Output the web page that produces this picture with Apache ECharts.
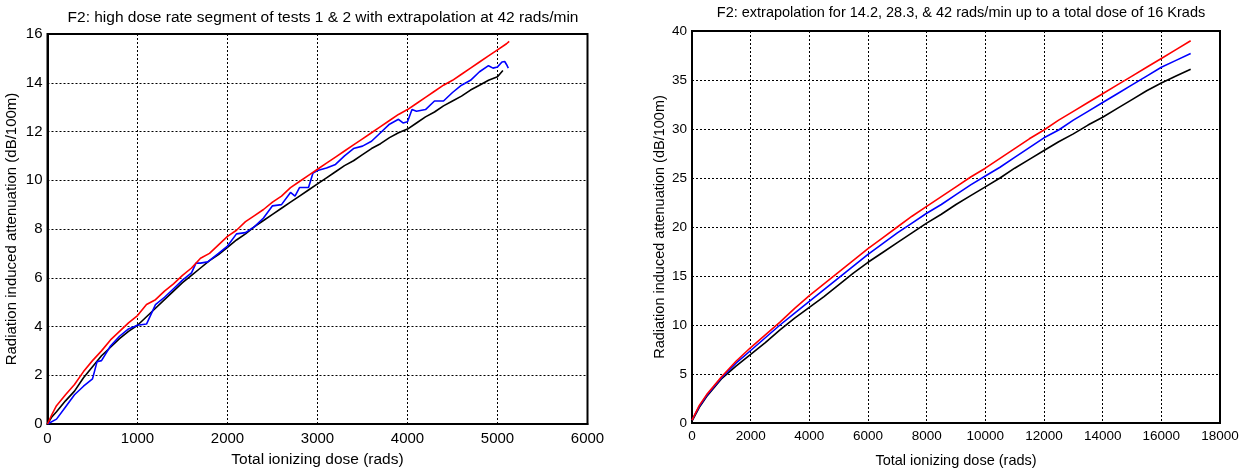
<!DOCTYPE html>
<html><head><meta charset="utf-8">
<script src="https://cdn.jsdelivr.net/npm/echarts@6/dist/echarts.min.js"></script>
<style>html,body{margin:0;padding:0;background:#fff}#c{width:1250px;height:473px}</style>
</head><body><div id="c"></div>
<script>
// ---- Text ----
const leftTitle = 'F2: high dose rate segment of tests 1 & 2 with extrapolation at 42 rads/min';
const rightTitle = 'F2: extrapolation for 14.2, 28.3, & 42 rads/min up to a total dose of 16 Krads';
const xName = 'Total ionizing dose (rads)';
const yName = 'Radiation induced attenuation (dB/100m)';

// ---- Left chart data ----
const leftRedX = [0,50,100,200,300,400,500,600,700,800,900,1000,1100,1200,1300,1400,1500,1600,1700,1800,1900,2000,2100,2200,2300,2400,2500,2600,2700,2800,2900,3000,3100,3200,3300,3400,3500,3600,3700,3800,3900,4000,4100,4200,4300,4400,4500,4600,4700,4800,4900,5000,5100,5130];
const leftRedY = [0,0.4,0.75,1.2,1.62,2.15,2.6,3.0,3.45,3.8,4.15,4.45,4.9,5.1,5.45,5.75,6.1,6.4,6.8,7.0,7.35,7.7,7.95,8.3,8.55,8.8,9.1,9.35,9.7,9.95,10.2,10.45,10.7,10.95,11.2,11.45,11.7,11.95,12.2,12.45,12.7,12.9,13.15,13.4,13.65,13.9,14.1,14.35,14.6,14.85,15.1,15.35,15.6,15.7];

const leftBlueX = [0,100,200,300,400,500,550,600,700,800,900,1000,1100,1150,1200,1300,1400,1500,1600,1650,1700,1780,1800,1900,2000,2100,2200,2300,2400,2500,2600,2700,2750,2800,2900,2950,3000,3100,3200,3300,3400,3500,3600,3700,3800,3900,3950,4000,4050,4100,4200,4300,4400,4500,4600,4700,4800,4900,4950,5000,5050,5080,5100,5120];
const leftBlueY = [0,0.2,0.7,1.2,1.55,1.85,2.55,2.6,3.2,3.6,3.9,4.05,4.1,4.5,4.9,5.2,5.55,5.9,6.2,6.6,6.6,6.65,6.7,7.0,7.3,7.8,7.85,8.1,8.45,8.95,9.0,9.5,9.35,9.7,9.7,10.3,10.4,10.5,10.65,11.0,11.3,11.4,11.6,11.95,12.3,12.5,12.35,12.4,12.9,12.83,12.9,13.25,13.25,13.6,13.9,14.1,14.45,14.7,14.6,14.65,14.85,14.87,14.75,14.6];

const leftBlackX = [0,50,100,200,300,400,500,600,700,800,900,1000,1100,1200,1300,1400,1500,1600,1700,1800,1900,2000,2100,2200,2300,2400,2500,2600,2700,2800,2900,3000,3100,3200,3300,3400,3500,3600,3700,3800,3900,4000,4100,4200,4300,4400,4500,4600,4700,4800,4900,5000,5060];
const leftBlackY = [0,0.3,0.5,0.95,1.35,1.9,2.35,2.8,3.15,3.5,3.8,4.05,4.4,4.75,5.1,5.45,5.8,6.1,6.4,6.7,6.95,7.25,7.55,7.8,8.1,8.35,8.6,8.85,9.1,9.35,9.6,9.85,10.1,10.35,10.6,10.8,11.05,11.3,11.5,11.75,11.95,12.1,12.35,12.6,12.8,13.05,13.25,13.45,13.7,13.9,14.1,14.25,14.5];

// ---- Right chart data ----
const rightX = [0,250,500,1000,1500,2000,2500,3000,3500,4000,4500,5000,5500,6000,6500,7000,7500,8000,8500,9000,9500,10000,10500,11000,11500,12000,12500,13000,13500,14000,14500,15000,15500,16000,16500,17000];
const rightRedY = [0.3,1.8,2.9,4.7,6.3,7.7,9.0,10.3,11.7,13.0,14.2,15.4,16.6,17.8,18.9,20.0,21.1,22.1,23.1,24.1,25.1,26.0,27.0,28.0,29.0,29.9,30.9,31.8,32.7,33.6,34.5,35.4,36.3,37.2,38.1,39.0];
const rightBlueY = [0.3,1.7,2.8,4.6,6.1,7.4,8.7,10.0,11.2,12.4,13.6,14.8,16.0,17.2,18.3,19.4,20.4,21.4,22.3,23.3,24.3,25.2,26.1,27.1,28.1,29.1,29.9,30.9,31.8,32.7,33.6,34.5,35.4,36.3,37.0,37.7];
const rightBlackY = [0.2,1.6,2.7,4.5,5.8,7.0,8.2,9.5,10.7,11.8,12.9,14.1,15.3,16.4,17.4,18.4,19.4,20.4,21.3,22.3,23.2,24.1,25.0,26.0,26.9,27.8,28.7,29.5,30.4,31.2,32.1,33.0,33.9,34.7,35.4,36.1];

const zip = (xs, ys) => xs.map((x, i) => [x, ys[i]]);
const FONT = 'Liberation Sans, Arial, sans-serif';
const plain = v => String(v);

function xAxis(gi, max, interval, fs, nfs, gap, margin) {
  return {
    type: 'value', gridIndex: gi, min: 0, max: max, interval: interval,
    name: xName, nameLocation: 'middle', nameGap: gap,
    nameTextStyle: { color: '#000', fontSize: nfs, fontFamily: FONT },
    axisLine: { show: true, onZero: false, lineStyle: { color: '#000', width: 2 } },
    axisTick: { show: false },
    axisLabel: { color: '#000', fontSize: fs, fontFamily: FONT, margin: margin, formatter: plain },
    splitLine: { show: true, lineStyle: { color: '#000', type: [2, 2], width: 1 } }
  };
}
function yAxis(gi, max, interval, fs, nfs, gap) {
  return {
    type: 'value', gridIndex: gi, min: 0, max: max, interval: interval,
    name: yName, nameLocation: 'middle', nameGap: gap,
    nameTextStyle: { color: '#000', fontSize: nfs, fontFamily: FONT },
    axisLine: { show: true, lineStyle: { color: '#000', width: 2 } },
    axisTick: { show: false },
    axisLabel: { color: '#000', fontSize: fs, fontFamily: FONT, margin: 5, formatter: plain },
    splitLine: { show: true, lineStyle: { color: '#000', type: [2, 2], width: 1 } }
  };
}
function line(data, color, xi) {
  return { type: 'line', data: data, xAxisIndex: xi, yAxisIndex: xi, showSymbol: false, symbol: 'none',
    lineStyle: { color: color, width: 1.6 }, itemStyle: { color: color }, animation: false, silent: true };
}

const chart = echarts.init(document.getElementById('c'), null, { renderer: 'canvas' });
chart.setOption({
  backgroundColor: '#fff',
  animation: false,
  title: [
    { text: leftTitle, left: 318, top: 5, textAlign: 'center', textStyle: { fontSize: 15.5, fontWeight: 'normal', color: '#000', fontFamily: FONT } },
    { text: rightTitle, left: 956, top: 0, textAlign: 'center', textStyle: { fontSize: 14.5, fontWeight: 'normal', color: '#000', fontFamily: FONT } }
  ],
  grid: [
    { left: 47.5, top: 34, width: 540, height: 391.5, show: true, borderColor: '#000', borderWidth: 2, backgroundColor: 'transparent' },
    { left: 692, top: 31, width: 528, height: 401, show: true, borderColor: '#000', borderWidth: 2, backgroundColor: 'transparent' }
  ],
  xAxis: [xAxis(0, 6000, 1000, 15, 15.5, 28, 7), xAxis(1, 18000, 2000, 13.5, 14.5, 30, 6)],
  yAxis: [yAxis(0, 16, 2, 15, 15, 28), yAxis(1, 40, 5, 13.5, 14.5, 25)],
  series: [
    line(zip(leftBlackX, leftBlackY), '#000000', 0),
    line(zip(leftBlueX, leftBlueY), '#0000ff', 0),
    line(zip(leftRedX, leftRedY), '#ff0000', 0),
    line(zip(rightX, rightBlackY), '#000000', 1),
    line(zip(rightX, rightBlueY), '#0000ff', 1),
    line(zip(rightX, rightRedY), '#ff0000', 1)
  ]
});
</script></body></html>
